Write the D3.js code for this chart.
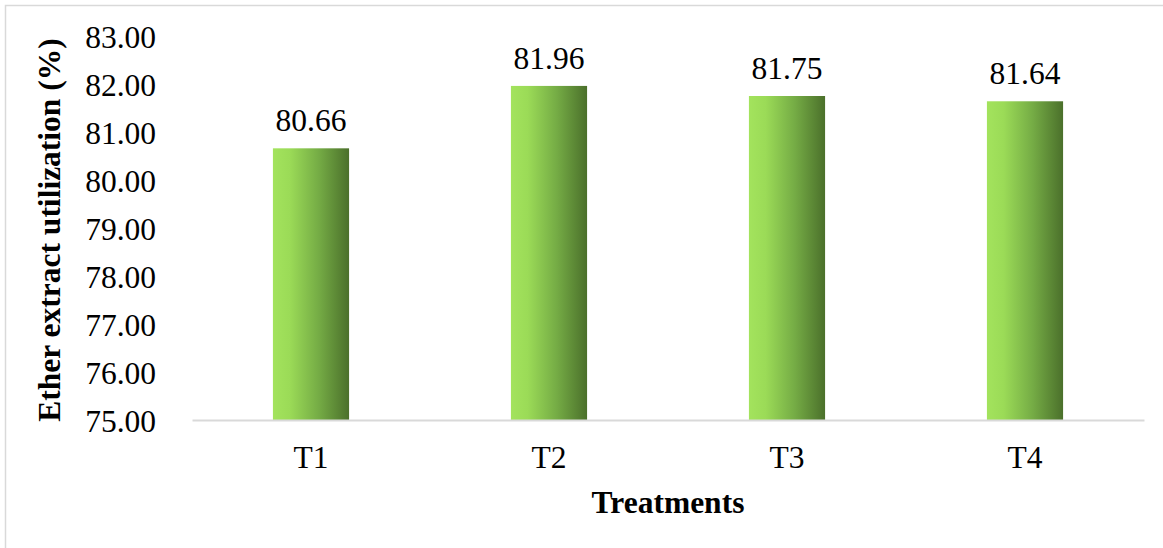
<!DOCTYPE html>
<html>
<head>
<meta charset="utf-8">
<script src="https://cdn.jsdelivr.net/npm/d3@7/dist/d3.min.js"></script>
<style>
  html, body { margin: 0; padding: 0; background: #ffffff; }
  svg { display: block; }
  svg text { font-family: "Liberation Serif", "Times New Roman", serif; fill: #000; }
</style>
</head>
<body>
<svg id="chart" width="1163" height="548"></svg>
<script>
// Ether extract utilization per treatment
const categories = ["T1", "T2", "T3", "T4"];
const values = [80.66, 81.96, 81.75, 81.64];
const yTicks = [75, 76, 77, 78, 79, 80, 81, 82, 83];
const yTitle = "Ether extract utilization (%)";
const xTitle = "Treatments";

const FONT = "'Liberation Serif', 'Times New Roman', serif";
const FS = "31.5px";
const svg = d3.select("#chart");
const W = 1163, H = 548;
const plot = { left: 192, right: 1144, top: 36, bottom: 420 };

// outer chart frame (runs off the right and bottom edges)
svg.append("rect")
  .attr("x", 5.5).attr("y", 5.5)
  .attr("width", W + 20).attr("height", H + 20)
  .attr("fill", "none").attr("stroke", "#d9d9d9").attr("stroke-width", 1.5);

const x = d3.scaleBand().domain(categories)
  .range([plot.left, plot.right]).paddingInner(0.68).paddingOuter(0.34);
const y = d3.scaleLinear().domain([75, 83]).range([plot.bottom, plot.top]);

// horizontal bar gradient: light green on the left, dark green on the right
const defs = svg.append("defs");
const grad = defs.append("linearGradient").attr("id", "barGrad")
  .attr("x1", "0").attr("x2", "1").attr("y1", "0").attr("y2", "0");
[[0, "#a3e35d"], [0.22, "#9bdb57"], [0.6, "#75ac45"], [1, "#4b702b"]].forEach(([o, c]) =>
  grad.append("stop").attr("offset", o).attr("stop-color", c));

// y axis tick labels (no axis line)
const yAxis = svg.append("g").attr("transform", `translate(${plot.left - 36},0)`)
  .call(d3.axisLeft(y).tickValues(yTicks).tickFormat(d3.format(".2f")).tickSize(0).tickPadding(0));
yAxis.attr("font-family", null).attr("font-size", null);
yAxis.select(".domain").remove();
yAxis.selectAll("text")
  .style("font-family", FONT)
  .style("font-size", FS).attr("fill", "#000").attr("dy", "0.37em");

// bars
svg.append("g").selectAll("rect").data(values).join("rect")
  .attr("x", (d, i) => x(categories[i]))
  .attr("y", d => y(d))
  .attr("width", x.bandwidth())
  .attr("height", d => y(75) - y(d))
  .attr("fill", "url(#barGrad)");

// value labels above bars
svg.append("g").selectAll("text").data(values).join("text")
  .attr("x", (d, i) => x(categories[i]) + x.bandwidth() / 2)
  .attr("y", d => y(d) - 17)
  .attr("text-anchor", "middle")
  .style("font-family", FONT).style("font-size", FS)
  .text(d => d3.format(".2f")(d));

// x axis baseline and category labels
const xAxis = svg.append("g").attr("transform", `translate(0,${plot.bottom})`)
  .call(d3.axisBottom(x).tickSize(0).tickPadding(0));
xAxis.attr("font-family", null).attr("font-size", null);
xAxis.select(".domain").attr("stroke", "#d9d9d9").attr("stroke-width", 2);
xAxis.selectAll("text")
  .style("font-family", FONT).style("font-size", FS).attr("fill", "#000")
  .attr("dy", "0").attr("y", 48);

// axis titles
svg.append("text")
  .attr("x", (plot.left + plot.right) / 2).attr("y", 513)
  .attr("text-anchor", "middle")
  .style("font-family", FONT).style("font-size", FS).style("font-weight", "bold")
  .text(xTitle);

svg.append("text")
  .attr("transform", `translate(60,${(plot.top + plot.bottom) / 2 + 2}) rotate(-90)`)
  .attr("text-anchor", "middle")
  .style("font-family", FONT).style("font-size", FS).style("font-weight", "bold")
  .text(yTitle);
</script>
</body>
</html>
